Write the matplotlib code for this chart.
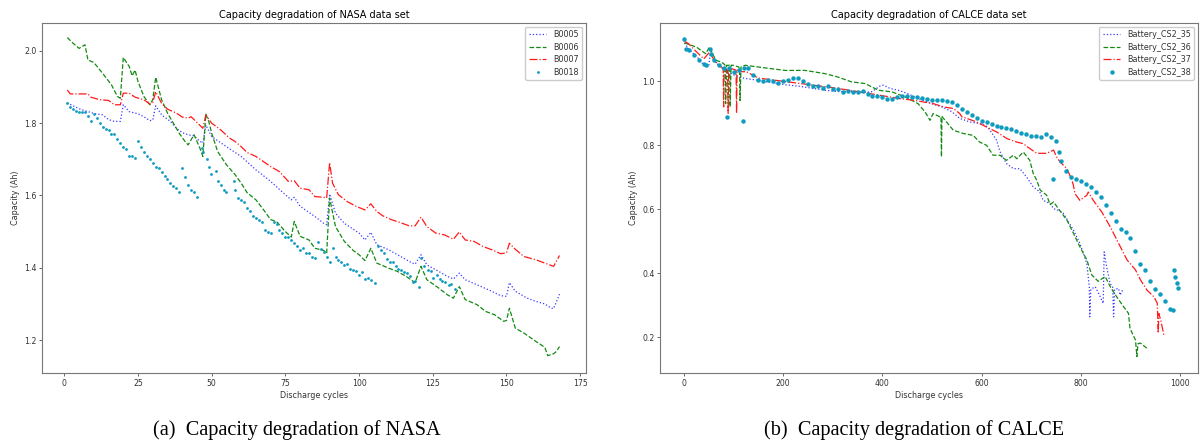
import matplotlib
matplotlib.use("Agg")
import matplotlib.pyplot as plt

# NASA data set (cycle, capacity in Ah)
b0005_x = [1, 5, 10, 13, 15, 17, 19, 20, 22, 25, 27, 29, 30, 31, 33, 36, 38, 40, 42, 44,
           46, 47, 48, 50, 55, 60, 65, 70, 75, 77, 78, 80, 85, 88, 89, 90, 92, 95, 100, 102,
           104, 106, 110, 115, 118, 119, 121, 123, 127, 130, 132, 134, 136, 140, 145, 148, 150, 151, 153, 157,
           160, 163, 165, 166, 168]
b0005_y = [1.856, 1.84, 1.827, 1.823, 1.81, 1.805, 1.805, 1.851, 1.832, 1.826, 1.818, 1.807, 1.809, 1.848, 1.823, 1.805, 1.786, 1.774, 1.768, 1.765,
           1.75, 1.745, 1.795, 1.763, 1.735, 1.708, 1.671, 1.639, 1.602, 1.588, 1.595, 1.57, 1.542, 1.523, 1.519, 1.604, 1.551, 1.523, 1.496, 1.477,
           1.498, 1.464, 1.45, 1.427, 1.413, 1.41, 1.436, 1.408, 1.39, 1.376, 1.369, 1.385, 1.367, 1.353, 1.335, 1.323, 1.321, 1.359, 1.335, 1.316,
           1.307, 1.3, 1.289, 1.287, 1.327]

b0006_x = [1, 3, 5, 6, 7, 8, 10, 13, 16, 18, 19, 20, 22, 23, 24, 25, 27, 29, 30, 31,
           33, 35, 37, 39, 41, 42, 44, 46, 47, 48, 49, 50, 52, 55, 58, 60, 62, 65, 68, 70,
           72, 75, 77, 78, 80, 83, 85, 88, 89, 90, 92, 95, 98, 100, 102, 104, 106, 110, 113, 116,
           119, 121, 123, 127, 130, 132, 134, 136, 140, 143, 146, 149, 150, 151, 153, 156, 160, 163, 164, 166,
           167, 168]
b0006_y = [2.037, 2.021, 2.007, 2.012, 2.017, 1.975, 1.968, 1.938, 1.906, 1.874, 1.869, 1.982, 1.957, 1.931, 1.947, 1.915, 1.874, 1.851, 1.865, 1.927,
           1.865, 1.828, 1.8, 1.772, 1.749, 1.74, 1.768, 1.731, 1.708, 1.825, 1.805, 1.772, 1.722, 1.685, 1.657, 1.634, 1.608, 1.588, 1.556, 1.533,
           1.528, 1.5, 1.485, 1.528, 1.487, 1.477, 1.454, 1.448, 1.44, 1.593, 1.514, 1.473, 1.448, 1.436, 1.42, 1.454, 1.413, 1.399, 1.39, 1.376,
           1.359, 1.404, 1.367, 1.344, 1.325, 1.316, 1.348, 1.312, 1.298, 1.279, 1.27, 1.252, 1.254, 1.288, 1.233, 1.219, 1.196, 1.18, 1.157, 1.162,
           1.169, 1.182]

b0007_x = [1, 2, 5, 8, 9, 12, 15, 17, 19, 20, 22, 24, 27, 29, 30, 31, 33, 35, 38, 40,
           42, 43, 45, 47, 48, 50, 53, 56, 58, 60, 62, 65, 67, 70, 73, 76, 78, 80, 83, 85,
           88, 89, 90, 91, 93, 96, 99, 102, 104, 106, 108, 111, 114, 117, 119, 121, 123, 126, 129, 132,
           134, 136, 139, 142, 145, 148, 150, 151, 153, 156, 160, 163, 166, 168]
b0007_y = [1.892, 1.881, 1.881, 1.881, 1.872, 1.865, 1.863, 1.851, 1.851, 1.883, 1.883, 1.872, 1.865, 1.853, 1.857, 1.887, 1.855, 1.839, 1.828, 1.817,
           1.814, 1.818, 1.802, 1.786, 1.823, 1.8, 1.782, 1.759, 1.749, 1.735, 1.719, 1.708, 1.697, 1.68, 1.666, 1.639, 1.641, 1.62, 1.616, 1.597,
           1.595, 1.593, 1.691, 1.634, 1.602, 1.583, 1.57, 1.56, 1.577, 1.556, 1.544, 1.533, 1.525, 1.516, 1.516, 1.54, 1.514, 1.496, 1.491, 1.479,
           1.499, 1.477, 1.473, 1.459, 1.45, 1.439, 1.441, 1.468, 1.451, 1.431, 1.422, 1.413, 1.404, 1.434]

b0018_x = [1, 2, 3, 4, 5, 6, 7, 8, 9, 10, 11, 12, 13, 14, 15, 16, 17, 18, 19, 20,
           21, 22, 23, 24, 25, 26, 27, 28, 29, 30, 31, 32, 33, 34, 35, 36, 37, 38, 39, 40,
           41, 42, 43, 44, 45, 46.6, 47.2, 48.3, 49, 49.9, 51.3, 52.2, 53.3, 54.2, 55, 57.4, 58, 59, 60, 61,
           62, 63, 64, 65, 66, 67, 68, 69, 70, 71, 72, 73, 74, 75, 76, 77, 78, 79, 80, 81,
           82, 83, 84, 85, 86, 87, 88, 89, 90, 91, 92, 93, 94, 95, 96, 97, 98, 99, 100, 101,
           102, 103, 104, 105.5, 106.4, 107.4, 108.5, 109.4, 110.4, 111.5, 112.4, 113.3, 114.3, 115.2, 116.1, 117.2, 118.2, 119.1, 120.2, 121,
           122, 123.3, 124.3, 125.2, 126.3, 127.3, 128.2, 129.3, 130.4, 131.2, 132.4]
b0018_y = [1.855, 1.845, 1.84, 1.835, 1.832, 1.832, 1.83, 1.82, 1.807, 1.825, 1.815, 1.8, 1.79, 1.785, 1.78, 1.77, 1.77, 1.755, 1.745, 1.735,
           1.73, 1.71, 1.71, 1.705, 1.751, 1.735, 1.72, 1.71, 1.7, 1.69, 1.68, 1.675, 1.665, 1.655, 1.645, 1.635, 1.625, 1.62, 1.61, 1.677,
           1.65, 1.63, 1.615, 1.61, 1.595, 1.732, 1.72, 1.7, 1.68, 1.66, 1.667, 1.64, 1.63, 1.615, 1.61, 1.64, 1.614, 1.594, 1.588, 1.583,
           1.565, 1.556, 1.542, 1.537, 1.533, 1.528, 1.505, 1.5, 1.497, 1.526, 1.52, 1.505, 1.497, 1.484, 1.484, 1.476, 1.468, 1.459, 1.45, 1.455,
           1.44, 1.44, 1.43, 1.427, 1.471, 1.453, 1.443, 1.429, 1.415, 1.456, 1.43, 1.422, 1.416, 1.407, 1.41, 1.396, 1.393, 1.392, 1.379, 1.387,
           1.37, 1.373, 1.367, 1.358, 1.461, 1.45, 1.44, 1.424, 1.415, 1.415, 1.404, 1.397, 1.393, 1.387, 1.385, 1.376, 1.362, 1.364, 1.347, 1.427,
           1.406, 1.395, 1.39, 1.371, 1.381, 1.369, 1.364, 1.362, 1.353, 1.356, 1.341]

# CALCE data set
cs35_x = [1, 10, 20, 30, 40, 50, 53, 60, 70, 80, 100, 120, 150, 180, 200, 230, 260, 284, 310, 338,
          360, 378, 395, 402, 415, 432, 450, 473, 499, 520, 540, 556, 576, 596, 610, 617, 630, 637, 650, 664,
          677, 691, 704, 717, 724, 738, 745, 758, 765, 785, 798, 812, 817, 818, 820, 829, 839, 845, 847, 852,
          859, 864, 866, 868, 876, 879, 885]
cs35_y = [1.12, 1.1, 1.085, 1.07, 1.05, 1.045, 1.09, 1.065, 1.05, 1.035, 1.02, 1.01, 1.003, 0.995, 0.99, 0.985, 0.978, 0.972, 0.968, 0.967,
          0.965, 0.967, 0.985, 0.988, 0.978, 0.972, 0.962, 0.946, 0.93, 0.92, 0.905, 0.884, 0.873, 0.868, 0.86, 0.847, 0.816, 0.78, 0.743, 0.727,
          0.727, 0.7, 0.67, 0.655, 0.628, 0.618, 0.602, 0.595, 0.587, 0.535, 0.494, 0.431, 0.358, 0.264, 0.35, 0.358, 0.327, 0.306, 0.467, 0.42,
          0.368, 0.358, 0.264, 0.35, 0.353, 0.332, 0.35]

cs36_x = [1, 10, 25, 44, 51, 64, 75, 80, 83, 84, 86, 92, 93, 95, 100, 110, 112, 113, 115, 123,
          163, 204, 244, 284, 311, 338, 365, 392, 419, 446, 472, 486, 496, 502, 516, 518, 519, 520, 529, 543,
          563, 583, 596, 610, 623, 637, 650, 664, 671, 684, 697, 704, 711, 718, 731, 738, 745, 758, 772, 785,
          798, 812, 822, 835, 849, 859, 872, 886, 896, 899, 910, 913, 915, 920, 933]
cs36_y = [1.12, 1.115, 1.107, 1.086, 1.107, 1.066, 1.06, 1.055, 1.05, 0.93, 1.05, 1.05, 0.92, 1.05, 1.05, 1.045, 1.04, 0.94, 1.045, 1.05,
          1.042, 1.034, 1.034, 1.024, 1.013, 0.998, 0.993, 0.972, 0.967, 0.951, 0.93, 0.904, 0.878, 0.899, 0.889, 0.89, 0.764, 0.89, 0.873, 0.847,
          0.837, 0.831, 0.81, 0.8, 0.769, 0.769, 0.753, 0.769, 0.758, 0.779, 0.753, 0.712, 0.691, 0.66, 0.644, 0.615, 0.623, 0.595, 0.566, 0.525,
          0.483, 0.442, 0.395, 0.375, 0.39, 0.359, 0.327, 0.296, 0.275, 0.228, 0.192, 0.14, 0.18, 0.182, 0.166]

cs37_x = [1, 9, 20, 40, 51, 64, 75, 79, 80, 81, 88, 89, 90, 95, 105, 106, 107, 115, 126, 150,
          200, 250, 300, 350, 400, 435, 462, 503, 523, 543, 556, 560, 570, 590, 610, 630, 651, 671, 684, 697,
          711, 731, 745, 751, 758, 772, 782, 785, 788, 798, 812, 815, 825, 842, 859, 876, 893, 910, 920, 933,
          947, 954, 956, 957, 961, 968]
cs37_y = [1.125, 1.118, 1.1, 1.07, 1.09, 1.06, 1.045, 1.04, 0.92, 1.04, 1.035, 0.9, 1.035, 1.04, 1.035, 0.9, 1.035, 1.03, 1.03, 1.01,
          1.0, 0.99, 0.98, 0.968, 0.955, 0.946, 0.941, 0.93, 0.92, 0.915, 0.899, 0.889, 0.884, 0.873, 0.857, 0.842, 0.821, 0.81, 0.805, 0.79,
          0.775, 0.775, 0.785, 0.764, 0.748, 0.727, 0.691, 0.675, 0.649, 0.628, 0.644, 0.654, 0.628, 0.592, 0.546, 0.494, 0.442, 0.411, 0.38, 0.348,
          0.327, 0.307, 0.213, 0.275, 0.254, 0.202]

cs38_x = [1, 5, 10, 20, 30, 40, 45, 52, 55, 60, 70, 80, 87, 90, 100, 110, 119, 120, 130, 140,
          150, 160, 170, 180, 190, 200, 210, 220, 230, 240, 250, 260, 270, 280, 290, 300, 310, 320, 330, 340,
          350, 360, 370, 380, 390, 400, 410, 420, 430, 440, 450, 460, 470, 480, 490, 500, 510, 520, 530, 540,
          550, 560, 570, 580, 590, 600, 610, 620, 630, 640, 650, 660, 670, 680, 690, 700, 710, 720, 730, 740,
          744, 749, 755, 760, 770, 780, 790, 800, 810, 820, 830, 840, 850, 860, 870, 880, 890, 900, 910, 920,
          930, 940, 950, 960, 970, 980, 985, 987, 990, 993, 996]
cs38_y = [1.133, 1.102, 1.097, 1.081, 1.066, 1.055, 1.05, 1.1, 1.085, 1.065, 1.05, 1.04, 0.887, 1.04, 1.03, 1.035, 0.877, 1.04, 1.04, 1.02,
          1.005, 1.0, 1.005, 1.0, 0.995, 1.0, 1.005, 1.01, 1.01, 1.0, 0.99, 0.985, 0.985, 0.98, 0.985, 0.975, 0.975, 0.965, 0.97, 0.965,
          0.965, 0.97, 0.96, 0.955, 0.955, 0.95, 0.945, 0.945, 0.95, 0.955, 0.955, 0.952, 0.951, 0.948, 0.945, 0.943, 0.941, 0.94, 0.937, 0.934,
          0.925, 0.915, 0.905, 0.895, 0.885, 0.876, 0.872, 0.866, 0.861, 0.856, 0.854, 0.851, 0.846, 0.84, 0.835, 0.83, 0.828, 0.826, 0.836, 0.825,
          0.696, 0.815, 0.779, 0.75, 0.72, 0.7, 0.695, 0.69, 0.68, 0.67, 0.655, 0.64, 0.615, 0.59, 0.565, 0.54, 0.53, 0.51, 0.47, 0.43,
          0.41, 0.375, 0.35, 0.335, 0.315, 0.29, 0.285, 0.41, 0.39, 0.37, 0.355]

plt.rcParams['font.family'] = 'DejaVu Sans'
tick_fs = 5.6
lab_fs = 5.8

fig = plt.figure(figsize=(12.03, 4.43), dpi=100)
ax1 = fig.add_axes([0.0352, 0.1573, 0.4517, 0.7914])
ax2 = fig.add_axes([0.5486, 0.1573, 0.4472, 0.7914])

lw = 0.9
ax1.plot(b0005_x, b0005_y, ':', color='#3a3aff', lw=lw, label='B0005')
ax1.plot(b0006_x, b0006_y, '--', color='#138a13', lw=lw, label='B0006')
ax1.plot(b0007_x, b0007_y, '-.', color='#ff1a1a', lw=lw, label='B0007')
ax1.plot(b0018_x, b0018_y, 'o', color='#0d9bc0', ms=2.0, mew=0, label='B0018')
ax1.set_xlim(-7.46, 176.9)
ax1.set_ylim(1.108, 2.078)
ax1.set_xticks([0, 25, 50, 75, 100, 125, 150, 175])
ax1.set_yticks([1.2, 1.4, 1.6, 1.8, 2.0])
ax1.set_title('Capacity degradation of NASA data set', fontsize=7.0, pad=3.5)

ax2.plot(cs35_x, cs35_y, ':', color='#3a3aff', lw=lw, label='Battery_CS2_35')
ax2.plot(cs36_x, cs36_y, '--', color='#138a13', lw=lw, label='Battery_CS2_36')
ax2.plot(cs37_x, cs37_y, '-.', color='#ff1a1a', lw=lw, label='Battery_CS2_37')
ax2.plot(cs38_x, cs38_y, 'o', color='#0d9bc0', ms=3.2, mew=0, label='Battery_CS2_38')
ax2.set_xlim(-48.4, 1036)
ax2.set_ylim(0.0876, 1.183)
ax2.set_xticks([0, 200, 400, 600, 800, 1000])
ax2.set_yticks([0.2, 0.4, 0.6, 0.8, 1.0])
ax2.set_title('Capacity degradation of CALCE data set', fontsize=7.0, pad=3.5)

for ax in (ax1, ax2):
    ax.set_xlabel('Discharge cycles', fontsize=lab_fs, labelpad=2, color='#333333')
    ax.set_ylabel('Capacity (Ah)', fontsize=lab_fs, labelpad=3, color='#333333')
    ax.tick_params(labelsize=tick_fs, length=2, width=0.6, pad=2, colors='#555555', labelcolor='#333333')
    for s in ax.spines.values():
        s.set_color('#777777')
        s.set_linewidth(0.8)
    leg = ax.legend(loc='upper right', fontsize=lab_fs, handlelength=2.2, borderpad=0.4,
                    labelspacing=0.45, framealpha=1, edgecolor='#cccccc', fancybox=True)
    for t in leg.get_texts():
        t.set_color('#333333')

fig.text(297 / 1203, 1 - 435 / 443, '(a)  Capacity degradation of NASA', family='Liberation Serif',
         fontsize=14.6, ha='center', va='baseline')
fig.text(914 / 1203, 1 - 435 / 443, '(b)  Capacity degradation of CALCE', family='Liberation Serif',
         fontsize=14.6, ha='center', va='baseline')

fig.savefig('out.png', dpi=100)
